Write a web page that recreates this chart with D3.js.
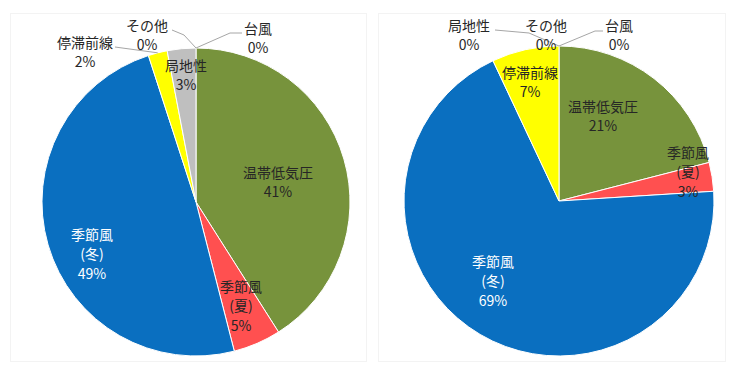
<!DOCTYPE html>
<html>
<head>
<meta charset="utf-8">
<script src="https://cdn.jsdelivr.net/npm/d3@7"></script>
<style>
  html, body { margin: 0; padding: 0; background: #fff; }
  text { font-family: "Noto Sans CJK JP", "Noto Sans", sans-serif; font-size: 14px; }
</style>
</head>
<body>
<svg id="chart" width="731" height="373"></svg>
<script>
// categories in drawing order (clockwise from 12 o'clock)
var categories = ['温帯低気圧', '季節風\n(夏)', '季節風\n(冬)', '停滞前線', '局地性', 'その他', '台風'];
var leftValues = [41, 5, 49, 2, 3, 0, 0];
var rightValues = [21, 3, 69, 7, 0, 0, 0];
var colors = ['#77933c', '#ff5050', '#0a6fc0', '#ffff00', '#bfbfbf', '#a5a5a5', '#4bacc6'];

// label offsets (first text line) from the pie centre; leader = polyline knee for tiny slices
var leftLabels = [
  { dx: 82, dy: -29 },
  { dx: 45, dy: 85 },
  { dx: -104, dy: 33 },
  { dx: -111, dy: -159, leader: [[-81, -155]] },
  { dx: -10, dy: -136 },
  { dx: -49, dy: -176, leader: [[-24, -172], [-12, -167]] },
  { dx: 62, dy: -173, leader: [[46, -169], [34, -169]] }
];
var rightLabels = [
  { dx: 44, dy: -94 },
  { dx: 129, dy: -48 },
  { dx: -66, dy: 61 },
  { dx: -29, dy: -128 },
  { dx: -90, dy: -175, leader: [[-64, -171], [-30, -168]] },
  { dx: -13, dy: -175 },
  { dx: 60, dy: -175, leader: [[44, -170], [36, -170]] }
];

var svg = d3.select('#chart');

// faint chart frames
svg.append('rect').attr('x', 10.5).attr('y', 13.5).attr('width', 356).attr('height', 348)
  .attr('fill', 'none').attr('stroke', '#f3f3f3');
svg.append('rect').attr('x', 378.5).attr('y', 13.5).attr('width', 347).attr('height', 348)
  .attr('fill', 'none').attr('stroke', '#f3f3f3');

function drawPie(values, labels, cx, cy, radius) {
  var data = categories.map(function (c, i) { return { name: c, value: values[i], idx: i }; });
  var pie = d3.pie().sort(null).value(function (d) { return d.value; });
  var arc = d3.arc().innerRadius(0).outerRadius(radius);
  var arcs = pie(data);
  var total = d3.sum(values);

  var g = svg.append('g').attr('transform', 'translate(' + cx + ',' + cy + ')');

  g.selectAll('path.slice')
    .data(arcs.filter(function (a) { return a.data.value > 0; }))
    .enter().append('path')
    .attr('class', 'slice')
    .attr('d', arc)
    .attr('fill', function (a) { return colors[a.data.idx]; })
    .attr('stroke', '#fff')
    .attr('stroke-width', 1);

  arcs.forEach(function (a, i) {
    var lab = labels[i];
    var lines = a.data.name.split('\n');
    lines.push(Math.round(a.data.value / total * 100) + '%');

    if (lab.leader) {
      var mid = (a.startAngle + a.endAngle) / 2;
      var edge = d3.pointRadial(mid, radius);
      var pts = lab.leader.concat([edge]);
      g.append('polyline')
        .attr('points', pts.map(function (p) { return p.join(','); }).join(' '))
        .attr('fill', 'none')
        .attr('stroke', '#a6a6a6')
        .attr('stroke-width', 1);
    }

    var t = g.append('text')
      .attr('text-anchor', 'middle')
      .attr('fill', a.data.idx === 2 ? '#ffffff' : '#262626');
    var lh = 19.5;
    lines.forEach(function (s, k) {
      t.append('tspan')
        .attr('x', lab.dx)
        .attr('y', lab.dy + k * lh)
        .attr('dy', '0.35em')
        .text(s);
    });
  });
}

drawPie(leftValues, leftLabels, 196, 202, 154);
drawPie(rightValues, rightLabels, 559, 201, 155);
</script>
</body>
</html>
